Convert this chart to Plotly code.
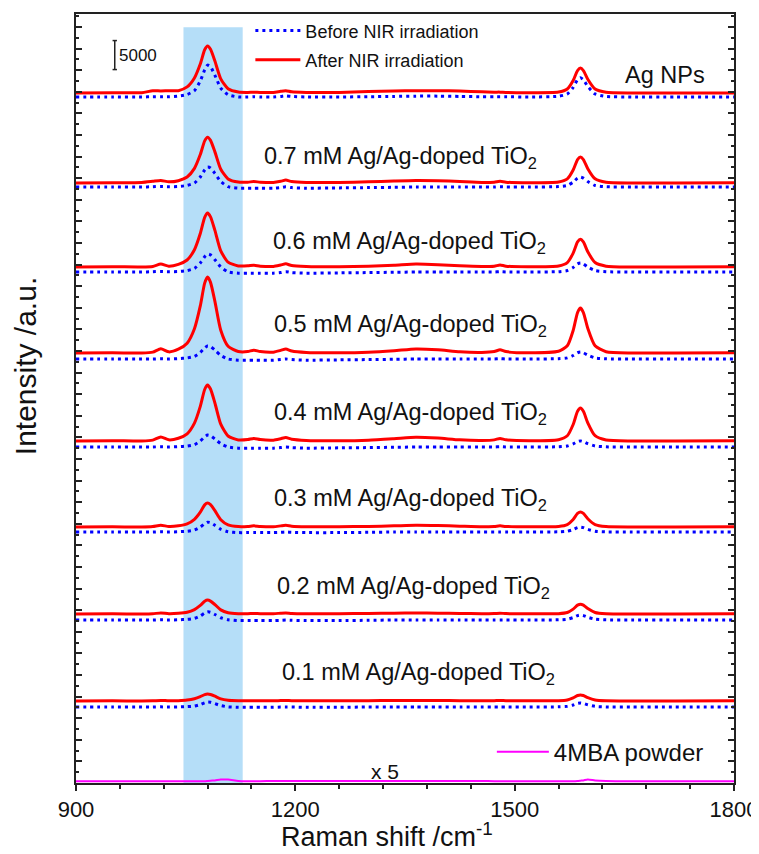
import plotly.graph_objects as go

# Raman shift grid (cm-1)
raman_shift = [900, 950, 990, 1005, 1016, 1027, 1040, 1052, 1062, 1070,
               1076, 1080, 1084, 1090, 1098, 1108, 1122, 1135, 1143, 1152,
               1170, 1180, 1187, 1195, 1215, 1260, 1300, 1335, 1365, 1395,
               1425, 1455, 1472, 1480, 1488, 1520, 1560, 1572, 1580, 1586,
               1590, 1594, 1600, 1610, 1625, 1660, 1720, 1800]

samples = ["Ag NPs", "0.7 mM", "0.6 mM", "0.5 mM", "0.4 mM", "0.3 mM", "0.2 mM", "0.1 mM"]

# After NIR irradiation (intensity above each trace's own baseline)
after_ag = [0, 50, 50, 400, 350, 400, 400, 1050, 2600, 5000,
            7450, 8100, 7530, 5500, 2430, 730, 160, 100, 150, 100,
            100, 300, 400, 200, 100, 100, 250, 350, 400, 400,
            350, 200, 150, 150, 100, 50, 170, 690, 2150, 3870,
            4300, 3870, 2370, 690, 130, 0, 0, 0]
after_07 = [0, 50, 100, 300, 450, 200, 395, 1030, 2530, 4900,
            7270, 7900, 7350, 5370, 2370, 710, 160, 150, 250, 150,
            100, 300, 500, 250, 100, 100, 200, 350, 450, 400,
            250, 100, 150, 300, 150, 50, 180, 720, 2250, 4050,
            4500, 4050, 2480, 720, 135, 0, 0, 50]
after_06 = [0, 50, 0, 100, 500, 150, 465, 1210, 2980, 5770,
            8560, 9300, 8650, 6320, 2790, 840, 190, 200, 300, 150,
            100, 350, 550, 250, 100, 50, 150, 300, 500, 400,
            200, 100, 150, 350, 150, 50, 190, 770, 2400, 4320,
            4800, 4320, 2640, 770, 145, 0, 0, 50]
after_05 = [0, 50, 0, 150, 750, 200, 655, 1700, 4190, 8120,
            12050, 13100, 12180, 8910, 3930, 1180, 260, 250, 500, 250,
            150, 450, 700, 350, 100, 50, 150, 400, 700, 550,
            200, 100, 250, 550, 250, 50, 310, 1240, 3880, 6980,
            7750, 6980, 4260, 1240, 230, 0, 0, 50]
after_04 = [0, 50, 0, 150, 700, 200, 480, 1250, 3090, 5980,
            8880, 9650, 8970, 6560, 2900, 870, 190, 250, 450, 250,
            150, 400, 600, 300, 100, 50, 150, 400, 650, 500,
            200, 100, 200, 450, 200, 50, 230, 910, 2850, 5130,
            5700, 5130, 3140, 910, 170, 0, 0, 50]
after_03 = [0, 30, 0, 80, 300, 100, 210, 540, 1330, 2570,
            3820, 4150, 3860, 2820, 1250, 370, 80, 100, 200, 100,
            50, 200, 300, 150, 50, 50, 100, 200, 300, 250,
            150, 50, 100, 200, 100, 30, 100, 420, 1300, 2340,
            2600, 2340, 1430, 420, 80, 0, 0, 30]
after_02 = [0, 30, 0, 50, 200, 50, 120, 310, 770, 1490,
            2210, 2400, 2230, 1630, 720, 220, 50, 50, 100, 50,
            50, 150, 200, 100, 50, 50, 100, 150, 200, 150,
            100, 50, 80, 150, 80, 30, 70, 270, 850, 1530,
            1700, 1530, 940, 270, 50, 0, 0, 30]
after_01 = [0, 30, 0, 30, 100, 30, 60, 160, 380, 740,
            1100, 1200, 1120, 820, 360, 110, 30, 30, 60, 30,
            30, 80, 100, 50, 30, 30, 50, 80, 100, 80,
            50, 30, 50, 80, 50, 30, 40, 170, 525, 945,
            1050, 945, 580, 170, 30, 0, 0, 30]

# Before NIR irradiation
before_ag = [0, 0, 0, 50, 50, 50, 165, 440, 1100, 2750,
             4680, 5500, 5230, 3740, 1540, 385, 0, 0, 50, 0,
             0, 100, 200, 100, 0, 0, 50, 100, 150, 150,
             100, 50, 50, 50, 50, 0, 130, 530, 1650, 2970,
             3300, 2970, 1820, 530, 100, 0, 0, 0]
before_07 = [0, 0, 0, 50, 100, 50, 100, 280, 690, 1730,
             2930, 3450, 3280, 2350, 970, 50, -200, -200, -200, -200,
             -200, -100, 50, -100, -200, -150, -100, -50, 0, 0,
             0, 0, 0, 50, 0, 0, 70, 270, 850, 1530,
             1700, 1530, 940, 270, 50, 0, 0, 0]
before_06 = [0, 0, 0, 50, 100, 50, 90, 250, 620, 1550,
             2640, 3100, 2950, 2110, 870, 20, -200, -200, -200, -200,
             -200, -100, 50, -100, -200, -150, -100, -50, 0, 0,
             0, 0, 0, 50, 0, 0, 60, 250, 775, 1400,
             1550, 1400, 850, 250, 50, 0, 0, 0]
before_05 = [0, 0, 0, 0, 50, 0, 70, 180, 450, 1130,
             1910, 2250, 2140, 1530, 630, 0, -200, -200, -200, -200,
             -200, -100, 0, -100, -200, -150, -100, -50, 0, 0,
             0, 0, 0, 50, 0, 0, 50, 190, 600, 1080,
             1200, 1080, 660, 190, 40, 0, 0, 0]
before_04 = [0, 0, 0, 0, 50, 0, 60, 160, 410, 1030,
             1740, 2050, 1950, 1390, 570, 0, -200, -200, -200, -200,
             -200, -100, 0, -100, -200, -150, -100, -50, 0, 0,
             0, 0, 0, 50, 0, 0, 40, 170, 525, 945,
             1050, 945, 580, 170, 30, 0, 0, 0]
before_03 = [0, 0, 0, 0, 50, 0, 50, 140, 340, 850,
             1450, 1700, 1620, 1160, 480, 50, -100, -100, -100, -100,
             -100, -50, 0, -50, -100, -100, -50, 0, 0, 0,
             0, 0, 0, 0, 0, 0, 35, 135, 425, 765,
             850, 765, 470, 135, 25, 0, 0, 0]
before_02 = [0, 0, 0, 0, 50, 0, 40, 110, 280, 700,
             1190, 1400, 1330, 950, 390, 50, -100, -100, -100, -100,
             -100, -50, 0, -50, -100, -100, -50, 0, 0, 0,
             0, 0, 0, 0, 0, 0, 35, 135, 425, 765,
             850, 765, 470, 135, 25, 0, 0, 0]
before_01 = [0, 0, 0, 0, 30, 0, 25, 70, 170, 425,
             720, 850, 810, 580, 240, 30, -50, -50, -50, -50,
             -50, 0, 0, 0, -50, -50, 0, 0, 0, 0,
             0, 0, 0, 0, 0, 0, 30, 110, 350, 630,
             700, 630, 385, 110, 20, 0, 0, 0]

# 4MBA powder (x5)
mba_powder = [0, 0, 0, 0, 0, 0, 0, 0, 0, 0,
              0, 50, 100, 150, 300, 300, 50, 0, 0, 0,
              50, 50, 50, 50, 50, 50, 50, 50, 50, 50,
              50, 50, 0, 0, 0, 0, 0, 0, 0, 50,
              100, 150, 300, 150, 50, 0, 0, 0]

after_series = [after_ag, after_07, after_06, after_05, after_04, after_03, after_02, after_01]
before_series = [before_ag, before_07, before_06, before_05, before_04, before_03, before_02, before_01]

# vertical stacking offsets (a.u.)
after_offsets = [118960, 103440, 88960, 74130, 58960, 44130, 29130, 14140]
before_offsets = [118270, 102750, 88100, 73100, 57930, 43270, 28100, 13100]
mba_offset = 300

sample_labels = ["Ag NPs",
                 "0.7 mM Ag/Ag-doped TiO<sub>2</sub>",
                 "0.6 mM Ag/Ag-doped TiO<sub>2</sub>",
                 "0.5 mM Ag/Ag-doped TiO<sub>2</sub>",
                 "0.4 mM Ag/Ag-doped TiO<sub>2</sub>",
                 "0.3 mM Ag/Ag-doped TiO<sub>2</sub>",
                 "0.2 mM Ag/Ag-doped TiO<sub>2</sub>",
                 "0.1 mM Ag/Ag-doped TiO<sub>2</sub>"]

FONT = "Liberation Sans, Arial, sans-serif"
RED = "#ff0000"
BLUE = "#0000ff"
MAGENTA = "#ff00ff"
INK = "#111111"

fig = go.Figure()

for i, name in enumerate(samples):
    fig.add_trace(go.Scatter(
        x=raman_shift, y=[v + after_offsets[i] for v in after_series[i]],
        mode="lines", line=dict(color=RED, width=3, shape="spline", smoothing=0.6),
        name="After NIR irradiation", legend="legend2", showlegend=(i == 0),
        hoverinfo="skip"))
for i, name in enumerate(samples):
    fig.add_trace(go.Scatter(
        x=raman_shift, y=[v + before_offsets[i] for v in before_series[i]],
        mode="lines", line=dict(color=BLUE, width=3, dash="3px,4px", shape="spline", smoothing=0.6),
        name="Before NIR irradiation", legend="legend", showlegend=(i == 0),
        hoverinfo="skip"))

fig.add_trace(go.Scatter(
    x=raman_shift, y=[v + mba_offset for v in mba_powder],
    mode="lines", line=dict(color=MAGENTA, width=2, shape="spline", smoothing=0.6),
    name="4MBA powder", legend="legend3", showlegend=True, hoverinfo="skip"))

# highlight band
fig.add_shape(type="rect", xref="x", yref="y", x0=1047, x1=1128, y0=0, y1=130300,
              fillcolor="#b5def8", line=dict(width=0), layer="below")

# scale bar (5000)
bar_x, bar_y0, bar_len = 953, 123000, 5000
fig.add_shape(type="line", x0=bar_x, x1=bar_x, y0=bar_y0, y1=bar_y0 + bar_len,
              line=dict(color="#222", width=1.5))
for yy in (bar_y0, bar_y0 + bar_len):
    fig.add_shape(type="line", x0=bar_x - 3, x1=bar_x + 3, y0=yy, y1=yy,
                  line=dict(color="#222", width=1.5))
fig.add_annotation(x=bar_x + 3, y=bar_y0 + bar_len / 2, text="5000", showarrow=False,
                   xanchor="left", yanchor="middle", font=dict(family=FONT, size=17, color=INK))

# sample labels
label_x = [1763, 1154, 1167, 1168, 1168, 1168, 1172, 1179]
label_dy = [3100, 4480, 4140, 4830, 4830, 4830, 4660, 4820]
for i, txt in enumerate(sample_labels):
    fig.add_annotation(x=label_x[i], y=after_offsets[i] + label_dy[i], text=txt,
                       showarrow=False, xanchor="right" if i == 0 else "left", yanchor="middle",
                       font=dict(family=FONT, size=23.5, color=INK))

fig.add_annotation(x=1322, y=1900, text="x 5", showarrow=False, xanchor="center",
                   yanchor="middle", font=dict(family=FONT, size=21, color=INK))

# axis titles
fig.add_annotation(xref="paper", yref="paper", x=0.472, y=-0.067, text="Raman shift /cm<sup>-1</sup>",
                   showarrow=False, xanchor="center", yanchor="middle", borderpad=0,
                   font=dict(family=FONT, size=27, color=INK))
fig.add_annotation(xref="paper", yref="paper", x=-0.0775, y=0.542, text="Intensity /a.u.",
                   showarrow=False, xanchor="center", yanchor="middle", textangle=-90, borderpad=0,
                   font=dict(family=FONT, size=30, color=INK))

legend_common = dict(xanchor="left", yanchor="middle", bgcolor="rgba(0,0,0,0)",
                     borderwidth=0)

# the page body adds an 8 px margin, so the figure is sized to fit the window
fig.update_layout(
    width=751, height=846,
    margin=dict(l=68, r=25, t=6, b=71, autoexpand=False),
    paper_bgcolor="white", plot_bgcolor="white",
    font=dict(family=FONT, color=INK),
    legend=dict(x=0.265, y=0.978, itemwidth=45, font=dict(family=FONT, size=18, color=INK), **legend_common),
    legend2=dict(x=0.265, y=0.940, itemwidth=45, font=dict(family=FONT, size=18, color=INK), **legend_common),
    legend3=dict(x=0.632, y=0.040, itemwidth=52, font=dict(family=FONT, size=24, color=INK), **legend_common),
    xaxis=dict(range=[900, 1800], tickvals=[900, 1200, 1500, 1800], automargin=False,
               ticks="outside", ticklen=6, tickwidth=1.5, tickcolor="#222",
               minor=dict(dtick=60, tick0=900, ticks="outside", ticklen=4, tickwidth=1.5, tickcolor="#222"),
               showline=True, linewidth=2, linecolor="#222", mirror=True,
               showgrid=False, zeroline=False,
               tickfont=dict(family=FONT, size=22, color=INK)),
    yaxis=dict(range=[0, 132580], showticklabels=False, automargin=False,
               tick0=0, dtick=3724, ticks="inside", ticklen=6, tickwidth=1.5, tickcolor="#222",
               minor=dict(dtick=1862, ticks="inside", ticklen=3, tickwidth=1.5, tickcolor="#222"),
               showline=True, linewidth=2, linecolor="#222", mirror="ticks",
               showgrid=False, zeroline=False),
)

fig.write_html("out.html")
